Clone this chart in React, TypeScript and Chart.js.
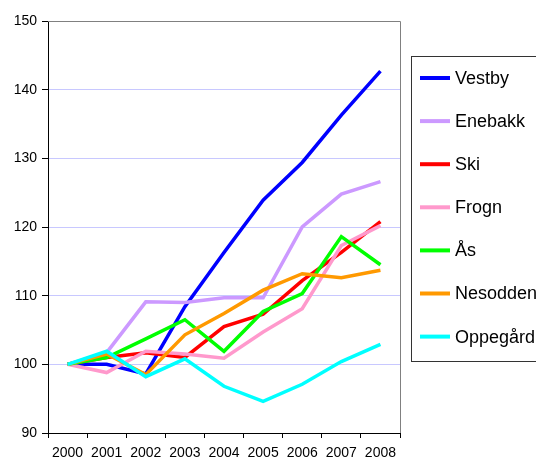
import React, { useEffect, useRef } from "react";
import { Chart, registerables } from "chart.js";

Chart.register(...registerables);

const years = ["2000", "2001", "2002", "2003", "2004", "2005", "2006", "2007", "2008"];
const seriesNames = ["Vestby", "Enebakk", "Ski", "Frogn", "Ås", "Nesodden", "Oppegård"];
const seriesColors = ["#0000ff", "#cc99ff", "#ff0000", "#ff99cc", "#00ff00", "#ff9900", "#00ffff"];

const vestby = [100, 100, 98.6, 108.4, 116.3, 123.9, 129.4, 136.3, 142.7];
const enebakk = [100, 101.7, 109.1, 109.0, 109.7, 109.7, 120.0, 124.8, 126.6];
const ski = [100, 101.0, 101.7, 101.0, 105.5, 107.3, 112.2, 116.3, 120.8];
const frogn = [100, 98.8, 101.9, 101.5, 100.9, 104.7, 108.1, 117.3, 120.2];
const aas = [100, 101.0, 103.7, 106.5, 101.9, 107.7, 110.3, 118.6, 114.5];
const nesodden = [100, 101.5, 98.5, 104.3, 107.4, 110.8, 113.2, 112.6, 113.7];
const oppegard = [100, 101.9, 98.2, 100.8, 96.8, 94.6, 97.1, 100.4, 102.9];

const seriesValues = [vestby, enebakk, ski, frogn, aas, nesodden, oppegard];

const yMin = 90;
const yMax = 150;
const yStep = 10;

const FONT = "'Liberation Sans', Arial, sans-serif";

export default function App() {
  const canvasRef = useRef<HTMLCanvasElement | null>(null);

  useEffect(() => {
    const canvas = canvasRef.current;
    if (!canvas) return;

    const frame = {
      id: "frame",
      beforeDatasetsDraw(chart: any) {
        const { ctx, chartArea } = chart;
        ctx.save();
        ctx.strokeStyle = "#808080";
        ctx.lineWidth = 1;
        ctx.beginPath();
        ctx.moveTo(chartArea.left, chartArea.top + 0.5);
        ctx.lineTo(chartArea.right + 0.5, chartArea.top + 0.5);
        ctx.lineTo(chartArea.right + 0.5, chartArea.bottom);
        ctx.stroke();
        ctx.restore();
      },
    };

    const legend = {
      id: "customLegend",
      afterDraw(chart: any) {
        const { ctx } = chart;
        ctx.save();
        ctx.strokeStyle = "#333333";
        ctx.lineWidth = 1;
        ctx.strokeRect(411.5, 56.5, 140, 305);
        ctx.font = `18px ${FONT}`;
        ctx.textBaseline = "middle";
        ctx.textAlign = "left";
        chart.data.datasets.forEach((ds: any, i: number) => {
          const y = 78 + i * 43.1;
          ctx.strokeStyle = ds.borderColor;
          ctx.lineWidth = 4;
          ctx.beginPath();
          ctx.moveTo(420, y);
          ctx.lineTo(450, y);
          ctx.stroke();
          ctx.fillStyle = "#000000";
          ctx.fillText(ds.label, 455, y + 1);
        });
        ctx.restore();
      },
    };

    const chart = new Chart(canvas, {
      type: "line",
      data: {
        labels: years,
        datasets: seriesNames.map((name, i) => ({
          label: name,
          data: seriesValues[i],
          borderColor: seriesColors[i],
          backgroundColor: seriesColors[i],
          borderWidth: 3.5,
          pointRadius: 0,
          tension: 0,
          fill: false,
          order: seriesNames.length - i,
        })),
      },
      options: {
        animation: false,
        responsive: false,
        maintainAspectRatio: false,
        layout: { padding: { top: 21, right: 136, left: 0, bottom: 0 } },
        plugins: {
          legend: { display: false },
          tooltip: { enabled: false },
        },
        scales: {
          x: {
            type: "category",
            offset: true,
            grid: {
              display: true,
              drawOnChartArea: false,
              drawTicks: true,
              tickLength: 5,
              tickColor: "#000000",
              offset: true,
            },
            border: { display: true, color: "#000000", width: 1 },
            ticks: {
              color: "#000000",
              font: { family: FONT, size: 14 },
              padding: 7,
              maxRotation: 0,
              autoSkip: false,
            },
            afterFit(scale: any) {
              scale.height = 27;
            },
          },
          y: {
            min: yMin,
            max: yMax,
            grid: {
              color: (c: any) => (c.tick && (c.tick.value === yMax || c.tick.value === yMin) ? "rgba(0,0,0,0)" : "#c8c8ff"),
              tickColor: "#000000",
              tickLength: 6,
              lineWidth: 1,
            },
            border: { display: true, color: "#000000", width: 1 },
            ticks: {
              stepSize: yStep,
              color: "#000000",
              font: { family: FONT, size: 14 },
              padding: 5,
            },
            afterFit(scale: any) {
              scale.width = 48;
            },
          },
        },
      },
      plugins: [frame, legend],
    });

    return () => {
      chart.destroy();
    };
  }, []);

  return (
    <div style={{ position: "fixed", left: 0, top: 0, width: 536, height: 460, background: "#ffffff" }}>
      <canvas ref={canvasRef} width={536} height={460} style={{ width: 536, height: 460, display: "block" }} />
    </div>
  );
}
